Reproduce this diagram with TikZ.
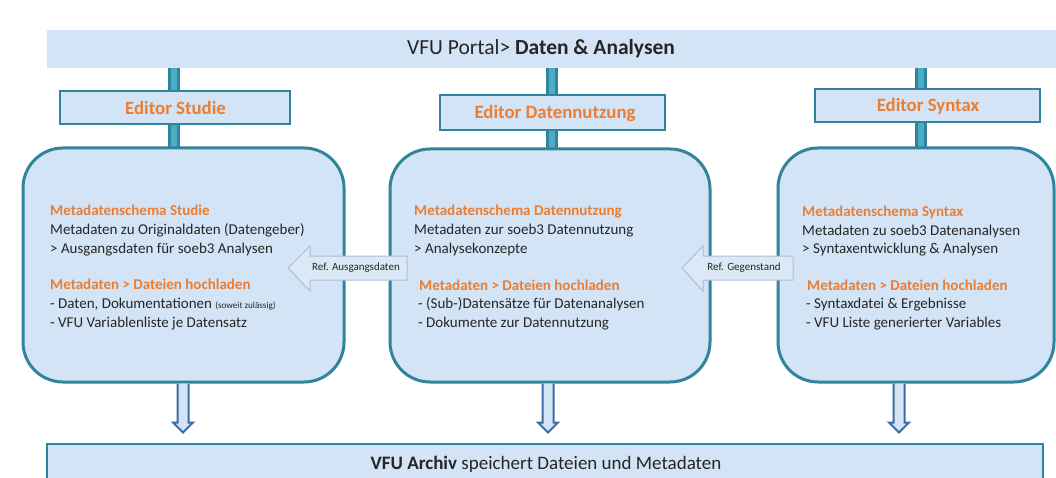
\documentclass[tikz,border=0pt]{standalone}
\usepackage{fontspec}
\usepackage{graphicx}
\setmainfont{Carlito}
\definecolor{boxfill}{HTML}{D2E4F5}
\definecolor{boxline}{HTML}{31849B}
\definecolor{barin}{HTML}{4BACC6}
\definecolor{orng}{HTML}{ED7D31}
\definecolor{txt}{HTML}{262626}
\definecolor{arrline}{HTML}{3B6CA6}
\definecolor{refline}{HTML}{A9C0DA}
\definecolor{reffill}{HTML}{DCE8F5}
\tikzset{
  bigbox/.style={draw=boxline, line width=3, fill=boxfill, rounded corners=40, inner sep=0},
  edbox/.style={draw=boxline, line width=2.5, fill=boxfill, inner sep=0},
  edlabel/.style={text=orng, font=\fontsize{18.8}{22}\selectfont\bfseries, inner sep=0},
  body/.style={text=txt, font=\fontsize{15}{18}\selectfont, anchor=base west, inner sep=0},
  head/.style={text=orng, font=\fontsize{15}{18}\selectfont\bfseries, anchor=base west, inner sep=0},
  vbar/.style={draw=boxline, line width=3, double=barin, double distance=6},
  downarr/.style={draw=arrline, line width=2, fill=boxfill, line join=miter},
  refarr/.style={draw=refline, line width=1, fill=reffill},
  reflabel/.style={text=txt, font=\fontsize{11}{13}\selectfont, inner sep=0}
}
\begin{document}
\begin{tikzpicture}[x=1pt,y=-1pt]
\useasboundingbox[fill=white] (0,0) rectangle (1056,478);
% coordinates for connector columns
\coordinate (c1) at (174,0);
\coordinate (c2) at (552,0);
\coordinate (c3) at (921,0);
\coordinate (d1) at (183,0);
\coordinate (d2) at (548,0);
\coordinate (d3) at (899,0);
% top bar
\node[fill=boxfill, minimum width=1009, minimum height=38, inner sep=0] (top) at (551.5,49) {};
\node[inner sep=0, text=txt, font=\fontsize{21.5}{24}\selectfont] (toptxt) at (541,49)
  {VFU Portal> \textbf{Daten \& Analysen}};
% bottom bar
\node[draw=boxline, line width=2, fill=boxfill, minimum width=996, minimum height=50, inner sep=0] (arch) at (545,469) {};
\node[inner sep=0, text=txt, font=\fontsize{19}{22}\selectfont] (archtxt) at (546,464)
  {\textbf{VFU Archiv} speichert Dateien und Metadaten};
% editor box centres
\path (175,107.5) coordinate (e1c) (552.5,112.5) coordinate (e2c) (927.5,105.5) coordinate (e3c);
% vertical connectors
\draw[vbar] (c1 |- 0,68) -- (c1 |- 0,150);
\draw[vbar] (c2 |- 0,68) -- (c2 |- 0,151);
\draw[vbar] (c3 |- 0,68) -- (c3 |- 0,150);
% editor boxes
\node[edbox, minimum width=230, minimum height=33] (e1) at (e1c) {};
\node[edlabel] (e1t) at (175.5,108) {Editor Studie};
\node[edbox, minimum width=225, minimum height=35] (e2) at (e2c) {};
\node[edlabel] (e2t) at (555,113.5) {Editor Datennutzung};
\node[edbox, minimum width=225, minimum height=33] (e3) at (e3c) {};
\node[edlabel] (e3t) at (928,106) {Editor Syntax};
% big boxes
\node[bigbox, minimum width=321, minimum height=234] (b1) at (183.5,265) {};
\node[bigbox, minimum width=320, minimum height=233] (b2) at (550,265.5) {};
\node[bigbox, minimum width=276, minimum height=234] (b3) at (916,265) {};
% down arrows
\draw[downarr] (b1.south -| d1) ++(-5.5,0) -- ++(0,39) -- ++(-4.5,0) -- ++(10,10) -- ++(10,-10) -- ++(-4.5,0) -- ++(0,-39);
\draw[downarr] (b2.south -| d2) ++(-5.5,0) -- ++(0,39) -- ++(-4.5,0) -- ++(10,10) -- ++(10,-10) -- ++(-4.5,0) -- ++(0,-39);
\draw[downarr] (b3.south -| d3) ++(-5.5,0) -- ++(0,39) -- ++(-4.5,0) -- ++(10,10) -- ++(10,-10) -- ++(-4.5,0) -- ++(0,-39);
% ref arrows
\draw[refarr] (288,268) -- (310,246) -- (310,256) -- (407,256) -- (407,280) -- (310,280) -- (310,291) -- cycle;
\node[reflabel] (r1) at (356,268) {Ref. Ausgangsdaten};
\draw[refarr] (682,268) -- (703,246) -- (703,256) -- (793,256) -- (793,280) -- (703,280) -- (703,291) -- cycle;
\node[reflabel] (r2) at (744,268) {Ref. Gegenstand};
% left box text
\node[head] (l1) at (50,216) {Metadatenschema Studie};
\node[body] (l2) at (50,234.5) {Metadaten zu Originaldaten (Datengeber)};
\node[body] (l3) at (50,253) {> Ausgangsdaten für soeb3 Analysen};
\node[head] (l4) at (50,289.5) {Metadaten > Dateien hochladen};
\node[body] (l5) at (50,308.5) {- Daten, Dokumentationen {\fontsize{9.1}{10}\selectfont (soweit zulässig)}};
\node[body] (l6) at (50,327.5) {- VFU Variablenliste je Datensatz};
% middle box text
\node[head] (m1) at (414,216) {Metadatenschema Datennutzung};
\node[body] (m2) at (414,234.5) {Metadaten zur soeb3 Datennutzung};
\node[body] (m3) at (414,253) {> Analysekonzepte};
\node[head] (m4) at (419,290) {Metadaten > Dateien hochladen};
\node[body] (m5) at (418,308.5) {- (Sub-)Datensätze für Datenanalysen};
\node[body] (m6) at (418,327.5) {- Dokumente zur Datennutzung};
% right box text
\node[head] (s1) at (802,217) {Metadatenschema Syntax};
\node[body] (s2) at (802,235.5) {Metadaten zu soeb3 Datenanalysen};
\node[body] (s3) at (802,253.5) {> Syntaxentwicklung \& Analysen};
\node[head] (s4) at (807,290) {Metadaten > Dateien hochladen};
\node[body] (s5) at (806,308.5) {- Syntaxdatei \& Ergebnisse};
\node[body] (s6) at (806,327.5) {- VFU Liste generierter Variables};
\end{tikzpicture}
\end{document}
